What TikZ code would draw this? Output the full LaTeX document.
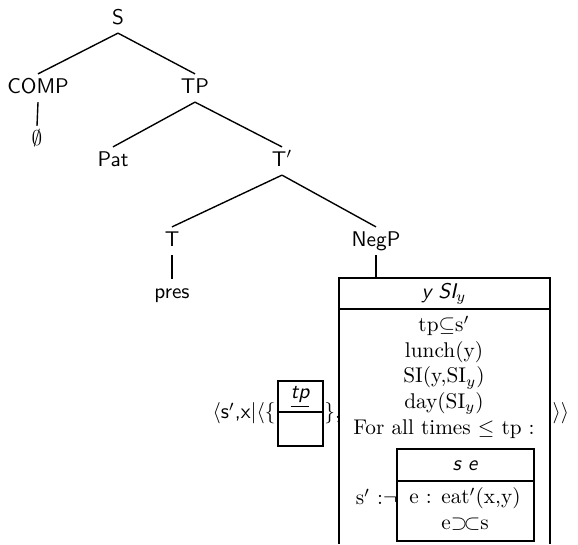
\documentclass[tikz,border=0pt]{standalone}
\usepackage{amssymb}
\usetikzlibrary{positioning}

\begin{document}
\begin{tikzpicture}[x=0.47pt, y=-0.47pt,
  cat/.style={font=\sffamily, inner sep=2pt, text height=1.6ex, text depth=0.4ex},
  every path/.style={line width=0.65pt}]

% frame
\useasboundingbox (0,0) rectangle (578,544);

% TREE
\node[cat] (S) at (118,19) {S};
\node[cat] (COMP) at (38,88) {COMP};
\node[cat] (TP) at (195,88) {TP};
\node[cat] (null) at (37,140) {$\emptyset$};
\node[cat] (Pat) at (113,161) {Pat};
\node[cat] (Tbar) at (282,161) {T$'$};
\node[cat] (T) at (172,241) {T};
\node[cat] (NegP) at (376,241) {NegP};
\node[cat] (pres) at (172,293) {pres};

% EDGES
\foreach \a/\b in {S/COMP, S/TP, COMP/null, TP/Pat, TP/Tbar, Tbar/T, Tbar/NegP, T/pres}
  { \draw (\a.south) -- (\b.north); }

% MAIN DRS (runs off the bottom)
\coordinate (boxtop) at (376,278);
\draw (339,544) |- (550,278) -- (550,544);
\draw (339,309) -- (550,309);
\draw (NegP.south) -- (boxtop);
\node (univ) at (444,294) {\sffamily\itshape y SI$_y$};
\node[align=center] (conds) at (444,377) {tp$\subseteq$s$'$\\lunch(y)\\SI(y,SI$_y$)\\day(SI$_y$)\\For all times $\leq$ tp :};

% embedded DRS
\draw (397,449) rectangle (534,541);
\draw (397,481) -- (534,481);
\node (subuniv) at (465,466) {\sffamily\itshape s e};
\node[align=center] (subconds) at (465,509) {e : eat$'$(x,y)\\e$\supset\!\subset$s};
\node[anchor=east, inner sep=0pt] (neg) at (398,497) {s$'$ :$\neg$};

% tp box and brackets
\node[draw, minimum width=21.2pt, minimum height=30.6pt, inner sep=0pt] (tpbox) at (300.5,413.5) {};
\draw (tpbox.west |- 0,412) -- (tpbox.east |- 0,412);
\node (tp) at (300,397) {\sffamily\itshape\underline{tp}};
\node[left=0pt of tpbox, inner sep=0.5pt] (lhs) {\sffamily$\langle$s$'$,x$|\langle\{$};
\node[right=0pt of tpbox, inner sep=0pt] (rhs) {$\}$,};
\node[anchor=west, inner sep=0pt] (close) at (552,413) {$\rangle\rangle$};

\end{tikzpicture}
\end{document}
